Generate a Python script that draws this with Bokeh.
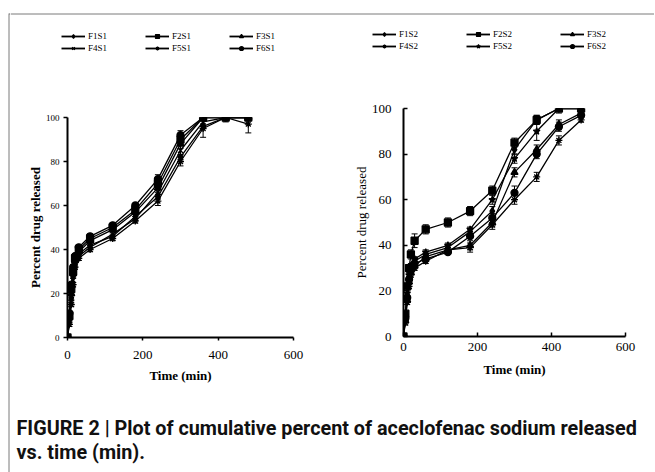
from bokeh.plotting import figure
from bokeh.models import Legend, LegendItem, Whisker, ColumnDataSource, FixedTicker, Range1d, TeeHead
from bokeh.layouts import column, row
from bokeh.embed import file_html
from bokeh.resources import INLINE
from bokeh.core.properties import value

# ---------------- data ----------------
time_min = [0, 5, 10, 15, 20, 30, 60, 120, 180, 240, 300, 360, 420, 480]

s1_names = ["F1S1", "F2S1", "F3S1", "F4S1", "F5S1", "F6S1"]
F1S1 = [0, 8, 18, 28, 34, 38, 42, 46, 55, 64, 82, 96, 100, 100]
F2S1 = [0, 10, 22, 30, 36, 40, 45, 50, 58, 70, 90, 100, 100, 100]
F3S1 = [0, 9, 20, 29, 35, 39, 44, 49, 57, 68, 88, 100, 100, 100]
F4S1 = [0, 7, 16, 26, 33, 37, 41, 47, 54, 66, 85, 98, 100, 100]
F5S1 = [0, 6, 15, 24, 32, 36, 40, 45, 53, 62, 80, 95, 100, 97]
F6S1 = [0, 11, 24, 32, 37, 41, 46, 51, 60, 72, 92, 100, 100, 100]
s1_values = [F1S1, F2S1, F3S1, F4S1, F5S1, F6S1]
E_S1 = [
    [0, 1, 1, 1, 1, 1, 1, 1, 1, 1, 1, 1, 0, 0],
    [0, 1, 1, 1, 1, 1, 1, 1, 2, 2, 2, 1, 0, 0],
    [0, 1, 1, 1, 1, 1, 1, 1, 1, 2, 2, 1, 0, 0],
    [0, 1, 1, 1, 1, 1, 1, 1, 1, 2, 2, 2, 2, 0],
    [0, 1, 1, 1, 1, 1, 1, 1, 1, 2, 2, 4, 0, 4],
    [0, 1, 1, 1, 1, 1, 1, 1, 1, 2, 2, 1, 0, 0],
]

s2_names = ["F1S2", "F2S2", "F3S2", "F4S2", "F5S2", "F6S2"]
F1S2 = [0, 8, 18, 26, 30, 33, 36, 39, 46, 55, 82, 95, 100, 100]
F2S2 = [0, 10, 22, 30, 36, 42, 47, 50, 55, 64, 85, 95, 100, 100]
F3S2 = [0, 7, 16, 24, 28, 31, 35, 38, 40, 50, 72, 82, 93, 98]
F4S2 = [0, 6, 15, 22, 27, 30, 33, 38, 39, 49, 60, 70, 86, 95]
F5S2 = [0, 9, 19, 27, 31, 34, 37, 40, 47, 60, 78, 90, 100, 100]
F6S2 = [0, 8, 17, 25, 29, 32, 34, 37, 44, 52, 63, 80, 92, 97]
s2_values = [F1S2, F2S2, F3S2, F4S2, F5S2, F6S2]
E_S2 = [
    [0, 1, 1, 1, 1, 1, 1, 1, 1, 2, 2, 2, 0, 0],
    [0, 1, 1, 1, 2, 3, 2, 2, 2, 2, 2, 2, 0, 0],
    [0, 1, 1, 1, 1, 1, 1, 2, 2, 2, 2, 2, 2, 2],
    [0, 1, 1, 1, 1, 1, 1, 2, 2, 2, 2, 2, 2, 1],
    [0, 1, 1, 1, 1, 1, 1, 1, 1, 2, 2, 4, 2, 0],
    [0, 1, 1, 1, 1, 1, 1, 1, 1, 2, 3, 2, 2, 1],
]

x_ticks = [0, 200, 400, 600]
y_ticks = [0, 20, 40, 60, 80, 100]
x_label = "Time (min)"
y_label = "Percent drug released"
caption_1 = "FIGURE 2 | Plot of cumulative percent of aceclofenac sodium released"
caption_2 = "vs. time (min)."

s1_markers = ["diamond", "square", "triangle", "x", "asterisk", "circle"]
s2_markers = ["diamond", "square", "triangle", "asterisk", "star", "circle"]

SERIF = "'Liberation Serif', 'DejaVu Serif', serif"
FRAME_COLOR = "#7a7a7a"
INNER_W = 644
TOP_H = 58
ROW_H = 385 - TOP_H
CAP_H = 472 - 385


def bare(width, height):
    f = figure(width=width, height=height, output_backend="svg", toolbar_location=None,
               x_range=Range1d(0, width), y_range=Range1d(0, height), min_border=0)
    f.axis.visible = False
    f.grid.visible = False
    f.outline_line_color = None
    return f


top = bare(INNER_W, TOP_H)
top.line(x=[0, INNER_W], y=[TOP_H - 13.5, TOP_H - 13.5], line_color=FRAME_COLOR, line_width=1)


def make_panel(names, values, errs, markers, width, bl, fw, bt, fh, ytick_size,
               leg_pos, leg_cols, style):
    p = figure(width=width, height=ROW_H, output_backend="svg", toolbar_location=None,
               x_range=Range1d(0, 600), y_range=Range1d(0, 100),
               min_border_left=bl, min_border_right=width - bl - fw,
               min_border_top=bt, min_border_bottom=ROW_H - bt - fh)
    p.grid.visible = False
    p.outline_line_color = None

    items = []
    for name, vals, err, mk in zip(names, values, errs, markers):
        src = ColumnDataSource(dict(x=time_min, y=vals,
                                    lo=[v - e for v, e in zip(vals, err)],
                                    hi=[v + e for v, e in zip(vals, err)]))
        w = Whisker(base="x", lower="lo", upper="hi", source=src, dimension="height",
                    line_color="black", line_width=1,
                    lower_head=TeeHead(size=6, line_color="black", line_width=1),
                    upper_head=TeeHead(size=6, line_color="black", line_width=1))
        p.add_layout(w)
        p.line("x", "y", source=src, line_color="black", line_width=1.3)
        p.scatter("x", "y", source=src, marker=mk, size=7,
                  fill_color="black", line_color="black", line_width=1.3)
        # legend swatches in the header strip (same series, hidden there)
        l1 = top.line(x=time_min, y=vals, line_color="black", line_width=1.8, visible=False)
        l2 = top.scatter(x=time_min, y=vals, marker=mk, size=6, fill_color="black",
                         line_color="black", line_width=1.2, visible=False)
        items.append(LegendItem(label=name, renderers=[l1, l2]))

    for k, rowitems in enumerate([items[:3], items[3:]]):
        leg = Legend(items=rowitems, orientation="horizontal",
                     location=(leg_pos[0], leg_pos[1] - 12 * k),
                     border_line_color=None, background_fill_alpha=0,
                     inactive_fill_alpha=0,
                     padding=0, margin=0, spacing=leg_cols[3],
                     glyph_width=leg_cols[0], glyph_height=10,
                     label_standoff=leg_cols[1], label_width=leg_cols[2], label_height=10,
                     label_text_font=SERIF, label_text_font_size="9px",
                     label_text_color="black")
        top.add_layout(leg, "center")

    p.xaxis.ticker = FixedTicker(ticks=x_ticks)
    p.yaxis.ticker = FixedTicker(ticks=y_ticks)
    for ax in (p.xaxis[0], p.yaxis[0]):
        ax.axis_line_width = 2
        ax.axis_line_color = "black"
        ax.major_tick_line_color = "black"
        ax.major_tick_line_width = 1.5
        ax.minor_tick_line_color = None
        ax.major_label_text_font = SERIF
        ax.major_label_text_color = "black"
        ax.axis_label_text_font = SERIF
        ax.axis_label_text_color = "black"
        ax.axis_label_text_font_size = "13px"
    p.xaxis.axis_label = x_label
    p.yaxis.axis_label = y_label
    p.xaxis.axis_label_text_font_style = "bold"
    p.yaxis.axis_label_text_font_style = style
    p.xaxis.major_label_text_font_size = "13px"
    p.yaxis.major_label_text_font_size = ytick_size
    return p


# left panel: page x 11..338 ; frame 68..294 ; frame top 117, bottom 337
left = make_panel(s1_names, s1_values, E_S1, s1_markers, 327, 57, 226, 117 - TOP_H, 220,
                  "9px", (51, 17), (24, 3, 40, 17), "bold")
left.xaxis.major_tick_out = 3
left.xaxis.major_tick_in = 0
left.xaxis.major_label_standoff = 10
left.xaxis.axis_label_standoff = 6
left.yaxis.major_tick_out = 4
left.yaxis.major_tick_in = 0
left.yaxis.major_label_standoff = 4
left.yaxis.axis_label_standoff = 0

# right panel: page x 338..655 ; frame 404..626 ; frame top 108, bottom 336
right = make_panel(s2_names, s2_values, E_S2, s2_markers, INNER_W - 327, 66, 222, 108 - TOP_H, 228,
                   "13px", (362, 19), (24, 3, 45, 22), "normal")
right.xaxis.major_tick_out = 0
right.xaxis.major_tick_in = 4
right.xaxis.major_label_standoff = 6
right.xaxis.axis_label_standoff = 8
right.yaxis.major_tick_out = 0
right.yaxis.major_tick_in = 4
right.yaxis.major_label_standoff = 12
right.yaxis.axis_label_standoff = 0

# left edge of the figure frame
edge = bare(10, 472)
edge.line(x=[8.5, 8.5], y=[0, 459], line_color=FRAME_COLOR, line_width=1)
edge.line(x=[8.5, 10], y=[458.5, 458.5], line_color=FRAME_COLOR, line_width=1)

cap = bare(INNER_W, CAP_H)
cap.text(x=[6, 6], y=[CAP_H - 43, CAP_H - 67], text=[caption_1, caption_2],
         text_font=value("Roboto"), text_font_style="bold",
         text_font_size="19.8px", text_baseline="alphabetic", text_color="#111111")

layout = row(edge, column(top, row(column(left), column(right)), cap))

open("out.html", "w").write(file_html(layout, INLINE))
